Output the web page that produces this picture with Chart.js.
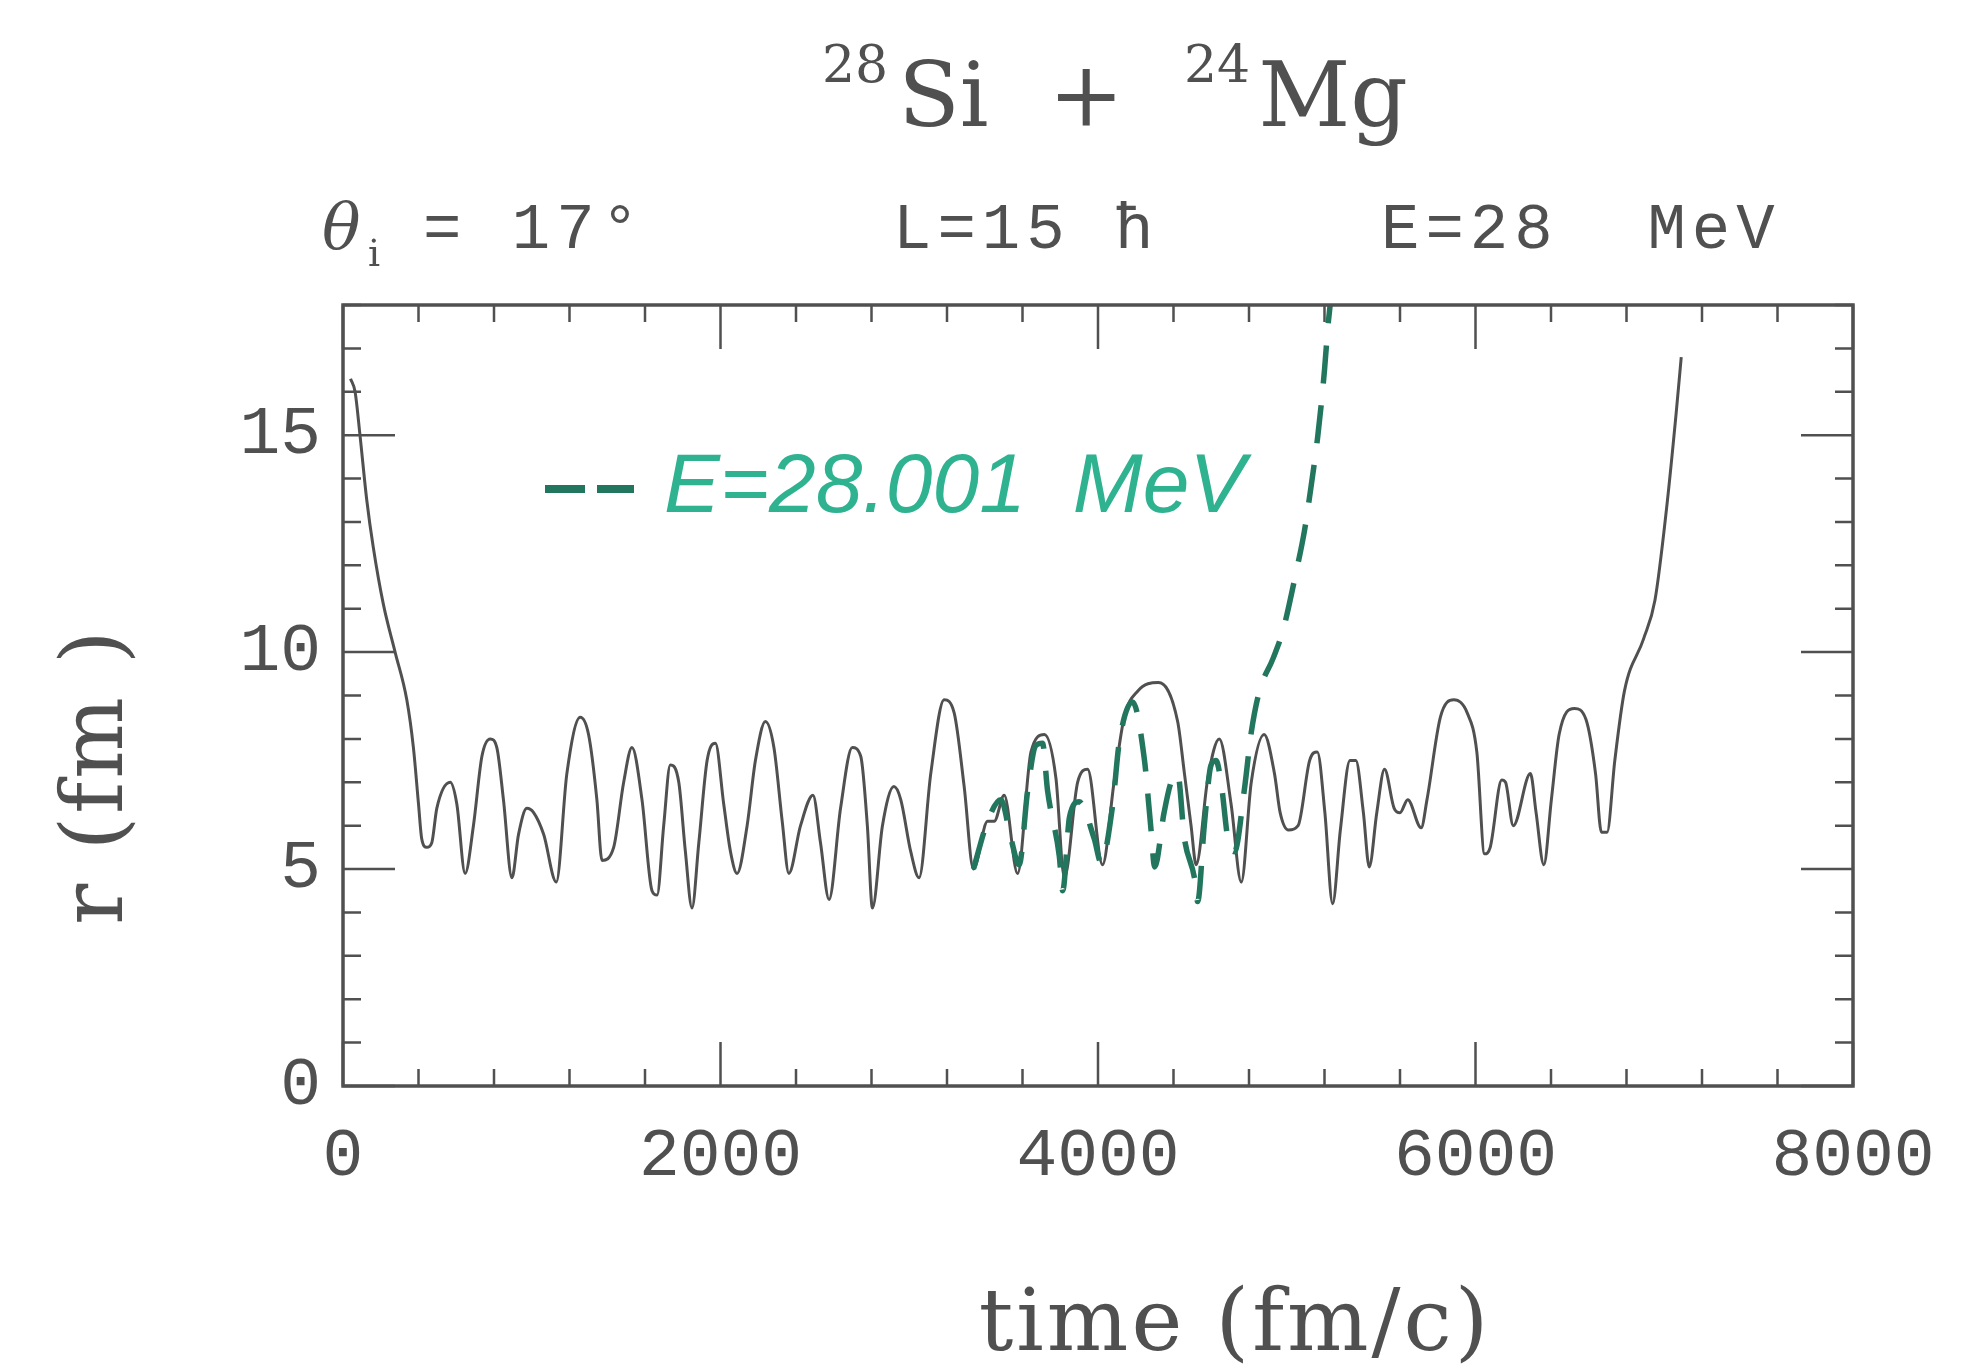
<!DOCTYPE html>
<html>
<head>
<meta charset="utf-8">
<title>28Si + 24Mg</title>
<script src="https://cdn.jsdelivr.net/npm/chart.js@4.4.1/dist/chart.umd.min.js"></script>
<style>
    html, body { margin: 0; padding: 0; background: #fff; }
    #wrap { width: 1978px; height: 1372px; }
</style>
</head>
<body>
<div id="wrap"><canvas id="orbit" width="1978" height="1372"></canvas></div>
<script>
// relative distance r(t), E = 28 MeV (solid)
const solidTime = [40, 64, 90, 126, 161, 214, 276, 338, 373, 400, 417, 444, 470, 497, 568, 603, 647, 691, 736, 780,
    815, 850, 895, 930, 974, 1010, 1063, 1130, 1186, 1257, 1301, 1345, 1372, 1434, 1487, 1531, 1584, 1637, 1664, 1699,
    1734, 1779, 1814, 1849, 1885, 1929, 1973, 2017, 2053, 2088, 2141, 2185, 2238, 2283, 2327, 2362, 2424, 2490, 2530, 2575,
    2636, 2698, 2743, 2778, 2805, 2858, 2919, 2955, 3008, 3052, 3114, 3185, 3238, 3291, 3340, 3415, 3450, 3503, 3574, 3645,
    3716, 3777, 3822, 3892, 3945, 4024, 4085, 4139, 4210, 4320, 4422, 4458, 4493, 4520, 4582, 4643, 4705, 4759, 4812, 4880,
    4935, 4965, 5009, 5060, 5121, 5162, 5202, 5243, 5284, 5335, 5366, 5406, 5437, 5477, 5518, 5569, 5600, 5641, 5712, 5743,
    5814, 5885, 5956, 6007, 6048, 6078, 6139, 6159, 6200, 6291, 6321, 6362, 6402, 6443, 6524, 6585, 6636, 6667, 6697, 6738,
    6789, 6890, 6951, 7012, 7063, 7090];
const solidR = [16.3, 16.0, 15.0, 13.5, 12.4, 11.1, 10.0, 8.9, 7.8, 6.5, 5.7, 5.5, 5.6, 6.4, 7.0, 6.5, 4.9, 6.0, 7.6, 8.0,
    7.8, 6.6, 4.8, 5.8, 6.4, 6.3, 5.8, 4.7, 7.2, 8.5, 8.1, 6.6, 5.2, 5.5, 7.0, 7.8, 6.6, 4.5, 4.4, 6.0,
    7.4, 7.0, 5.4, 4.1, 5.6, 7.5, 7.9, 6.5, 5.4, 4.9, 6.0, 7.5, 8.4, 7.8, 6.1, 4.9, 6.0, 6.7, 5.6, 4.3,
    6.4, 7.8, 7.6, 6.0, 4.1, 6.0, 6.9, 6.6, 5.4, 4.8, 7.2, 8.9, 8.6, 6.9, 5.0, 6.1, 6.1, 6.7, 4.9, 7.7,
    8.1, 7.1, 4.8, 7.0, 7.3, 5.1, 7.0, 8.5, 9.1, 9.3, 8.4, 7.2, 6.0, 5.1, 7.1, 8.0, 6.5, 4.7, 7.0, 8.1,
    7.2, 6.3, 5.9, 6.0, 7.5, 7.7, 6.3, 4.2, 5.9, 7.5, 7.5, 6.3, 5.05, 6.3, 7.3, 6.4, 6.3, 6.6, 5.95, 6.6,
    8.5, 8.9, 8.6, 7.7, 5.35, 5.5, 7.05, 7.0, 6.0, 7.2, 6.3, 5.1, 6.6, 8.1, 8.7, 8.45, 7.2, 5.85, 5.85, 7.5,
    9.1, 10.3, 11.2, 13.3, 15.5, 16.8];

// E = 28.001 MeV (dashed)
const dashedTime = [3340, 3415, 3485, 3539, 3582, 3627, 3671, 3706, 3733, 3795, 3813, 3849, 3900, 3980, 4016, 4077, 4112,
    4183, 4245, 4281, 4300, 4350, 4387, 4422, 4458, 4511, 4528, 4563, 4599, 4625, 4652, 4688, 4723, 4776, 4812, 4855,
    4927, 4980, 5050, 5094, 5120, 5165, 5200, 5218, 5230];
const dashedR = [5.0, 6.1, 6.6, 5.7, 5.1, 6.8, 7.85, 7.9, 6.8, 5.3, 4.5, 6.2, 6.55, 5.7, 5.15, 6.45, 7.9,
    8.85, 7.55, 5.9, 5.05, 6.3, 7.0, 7.2, 5.7, 4.8, 4.25, 6.0, 7.4, 7.5, 7.0, 5.7, 5.4, 6.85, 8.15, 9.1,
    9.85, 10.5, 11.85, 12.8, 13.55, 15.0, 16.5, 17.5, 18.0];

const xTickLabels = [0, 2000, 4000, 6000, 8000];
const yTickLabels = [0, 5, 10, 15];
const xMinorStep = 400;
const yMinorStep = 1;

const INK = '#505050';
const GREEN = '#22765e';
const TEAL = '#2fb28f';

function toPoints(xs, ys) {
    return xs.map((x, i) => ({ x: x, y: ys[i] }));
}

// box round the plot with inward ticks on all four sides
const frameTicks = {
    id: 'frameTicks',
    afterDatasetsDraw(chart) {
        const { ctx, chartArea: a, scales: { x, y } } = chart;
        ctx.save();
        ctx.strokeStyle = INK;
        ctx.lineWidth = 2.5;
        ctx.beginPath();
        for (let v = x.min; v <= x.max; v += xMinorStep) {
            const px = x.getPixelForValue(v);
            const len = xTickLabels.includes(v) ? 44 : 17;
            ctx.moveTo(px, a.bottom); ctx.lineTo(px, a.bottom - len);
            ctx.moveTo(px, a.top); ctx.lineTo(px, a.top + len);
        }
        for (let v = y.min; v <= y.max; v += yMinorStep) {
            const py = y.getPixelForValue(v);
            const len = v % 5 === 0 ? 52 : 18;
            ctx.moveTo(a.left, py); ctx.lineTo(a.left + len, py);
            ctx.moveTo(a.right, py); ctx.lineTo(a.right - len, py);
        }
        ctx.stroke();
        ctx.lineWidth = 3.5;
        ctx.strokeRect(a.left, a.top, a.right - a.left, a.bottom - a.top);
        ctx.restore();
    }
};

// titles, axis names and the hand-written legend
const annotations = {
    id: 'annotations',
    afterDraw(chart) {
        const ctx = chart.ctx;
        ctx.save();
        ctx.fillStyle = INK;
        ctx.textBaseline = 'alphabetic';
        ctx.textAlign = 'left';

        // 28Si + 24Mg
        const big = '90px "DejaVu Serif"';
        const small = '52px "DejaVu Serif"';
        const parts = [
            [small, '28', 82, 10],
            [big, 'Si', 126, 60],
            [big, '+', 126, 60],
            [small, '24', 82, 8],
            [big, 'Mg', 126, 0]
        ];
        let cx = 822;
        parts.forEach(([font, txt, base, gap]) => {
            ctx.font = font;
            ctx.fillText(txt, cx, base);
            cx += ctx.measureText(txt).width + gap;
        });

        // run parameters
        ctx.font = 'italic 64px "DejaVu Serif"';
        ctx.fillText('θ', 322, 248);
        ctx.font = '38px "DejaVu Serif"';
        ctx.fillText('i', 368, 266);
        ctx.font = '64px "Liberation Mono"';
        ctx.letterSpacing = '6px';
        ctx.fillText('= 17°', 423, 248);
        ctx.fillText('L=15 ħ', 893, 248);
        ctx.fillText('E=28  MeV', 1381, 248);
        ctx.letterSpacing = '0px';

        // axis names
        ctx.font = '86px "DejaVu Serif"';
        ctx.letterSpacing = '3px';
        ctx.textAlign = 'center';
        ctx.fillText('time (fm/c)', 1235, 1350);
        ctx.save();
        ctx.translate(122, 776);
        ctx.rotate(-Math.PI / 2);
        ctx.fillText('r (fm )', 0, 0);
        ctx.restore();
        ctx.letterSpacing = '0px';

        // legend for the dashed run
        ctx.strokeStyle = GREEN;
        ctx.lineWidth = 8;
        ctx.setLineDash([40, 12]);
        ctx.beginPath();
        ctx.moveTo(545, 489);
        ctx.lineTo(634, 489);
        ctx.stroke();
        ctx.setLineDash([]);
        ctx.fillStyle = TEAL;
        ctx.textAlign = 'left';
        ctx.font = 'italic 84px "Liberation Sans"';
        ctx.fillText('E=28.001  MeV', 664, 512);
        ctx.restore();
    }
};

const tickFont = { family: 'Liberation Mono', size: 68 };

new Chart(document.getElementById('orbit'), {
    type: 'line',
    data: {
        datasets: [
            {
                label: 'E=28 MeV',
                data: toPoints(solidTime, solidR),
                borderColor: INK,
                borderWidth: 3,
                pointRadius: 0,
                cubicInterpolationMode: 'monotone',
                fill: false,
                order: 2
            },
            {
                label: 'E=28.001 MeV',
                data: toPoints(dashedTime, dashedR),
                borderColor: GREEN,
                borderWidth: 5.5,
                borderDash: [38, 22],
                pointRadius: 0,
                cubicInterpolationMode: 'monotone',
                fill: false,
                order: 1
            }
        ]
    },
    options: {
        responsive: false,
        devicePixelRatio: 1,
        animation: false,
        layout: { padding: { top: 305, right: 125, left: 0, bottom: 0 } },
        plugins: {
            legend: { display: false },
            tooltip: { enabled: false },
            title: { display: false }
        },
        scales: {
            x: {
                type: 'linear',
                min: 0,
                max: 8000,
                grid: { display: false },
                border: { display: false },
                afterBuildTicks: s => { s.ticks = xTickLabels.map(v => ({ value: v })); },
                afterFit: s => { s.height = 286; },
                ticks: {
                    padding: 22,
                    maxRotation: 0,
                    autoSkip: false,
                    color: INK,
                    font: tickFont,
                    callback: v => String(v)
                }
            },
            y: {
                type: 'linear',
                min: 0,
                max: 18,
                grid: { display: false },
                border: { display: false },
                afterBuildTicks: s => { s.ticks = yTickLabels.map(v => ({ value: v })); },
                afterFit: s => { s.width = 343; },
                ticks: {
                    padding: 14,
                    autoSkip: false,
                    color: INK,
                    font: tickFont,
                    callback: v => String(v)
                }
            }
        }
    },
    plugins: [frameTicks, annotations]
});
</script>
</body>
</html>
